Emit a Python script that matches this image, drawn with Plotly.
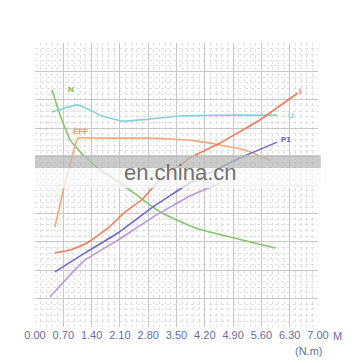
import plotly.graph_objects as go

# torque (N.m) and curve values in grid units (0-10)
n_x = [0.42, 0.62, 0.87, 1.19, 1.61, 2.10, 2.35, 3.09, 3.96, 4.82, 5.94]
n_y = [8.35, 7.46, 6.58, 6.06, 5.53, 5.07, 4.82, 4.05, 3.49, 3.17, 2.78]

u_x = [0.42, 0.74, 1.04, 1.36, 1.61, 2.15, 2.84, 3.59, 4.82, 5.99]
u_y = [7.57, 7.71, 7.82, 7.64, 7.46, 7.25, 7.32, 7.43, 7.46, 7.46]

eff_x = [0.49, 0.62, 0.74, 0.87, 0.96, 1.06, 1.61, 2.84, 3.83, 4.58, 5.19, 5.81]
eff_y = [3.52, 4.30, 5.07, 5.70, 6.23, 6.65, 6.65, 6.65, 6.58, 6.41, 6.23, 5.88]

i_x = [0.49, 0.87, 1.29, 1.81, 2.23, 2.65, 3.02, 3.83, 4.58, 5.56, 6.50]
i_y = [2.61, 2.71, 2.96, 3.49, 4.05, 4.49, 5.07, 5.95, 6.48, 7.29, 8.24]

p1_x = [0.49, 1.24, 2.05, 2.92, 3.83, 5.07, 5.99]
p1_y = [1.94, 2.61, 3.31, 4.23, 5.07, 5.95, 6.51]

p2_x = [0.37, 0.82, 1.24, 2.05, 2.92, 3.83, 4.58]
p2_y = [1.06, 1.76, 2.36, 3.06, 3.87, 4.61, 5.07]

tick_vals = [0, 0.7, 1.4, 2.1, 2.8, 3.5, 4.2, 4.9, 5.6, 6.3, 7.0]
tick_text = ["0.00", "0.70", "1.40", "2.10", "2.80", "3.50", "4.20", "4.90", "5.60", "6.30", "7.00"]

series = [
    ("N", n_x, n_y, "#86c46e"),
    ("U", u_x, u_y, "#86d2da"),
    ("EFF", eff_x, eff_y, "#f2a878"),
    ("I", i_x, i_y, "#f07c58"),
    ("P1", p1_x, p1_y, "#6a6ac8"),
    ("P2", p2_x, p2_y, "#b896dc"),
]

AXIS_FONT = "Liberation Sans"
AXIS_COL = "#6b6b9b"

fig = go.Figure()
for name, xs, ys, col in series:
    fig.add_trace(go.Scatter(x=xs, y=ys, mode="lines", name=name,
                             line=dict(color=col, width=1.6, shape="spline", smoothing=0.3)))

labels = [
    ("N", 0.9, 8.35, "#6fb85a"),
    ("U", 6.33, 7.46, "#86d2da"),
    ("EFF", 1.12, 6.9, "#f29a68"),
    ("I", 6.55, 8.3, "#e8704c"),
    ("P1", 6.2, 6.6, "#5a5ac0"),
]
for t, x, y, c in labels:
    fig.add_annotation(x=x, y=y, text="<b>" + t + "</b>", showarrow=False,
                       font=dict(size=8, color=c, family="Liberation Sans"))

# watermark band
fig.add_shape(type="rect", xref="paper", yref="paper", x0=0, x1=1.01,
              y0=(327 - 168) / 284, y1=(327 - 155) / 284,
              fillcolor="rgba(185,185,185,0.75)", line=dict(width=0), layer="above")
fig.add_shape(type="rect", xref="paper", yref="paper", x0=0, x1=1.01,
              y0=(327 - 188) / 284, y1=(327 - 168) / 284,
              fillcolor="rgba(250,250,250,0.75)", line=dict(width=0), layer="above")
fig.add_annotation(xref="paper", yref="paper", x=(180 - 35) / 283, y=(327 - 173) / 284,
                   yanchor="middle", text="en.china.cn", showarrow=False,
                   font=dict(size=22, color="#707070", family="Liberation Sans"))

# unit suffix after the last tick and the unit line below it
fig.add_annotation(xref="paper", yref="paper", x=(331 - 35) / 283, y=(327 - 336) / 284,
                   xanchor="left", yanchor="middle", text="M", showarrow=False,
                   font=dict(size=11, color=AXIS_COL, family=AXIS_FONT))
fig.add_annotation(xref="paper", yref="paper", x=(325 - 35) / 283, y=(327 - 351) / 284,
                   yanchor="middle", text="(N.m)", showarrow=False,
                   font=dict(size=11, color=AXIS_COL, family=AXIS_FONT))

fig.update_xaxes(range=[0, 7], tickvals=tick_vals, ticktext=tick_text, tickangle=0,
                 showgrid=True, gridcolor="#c8c8c8", gridwidth=1,
                 zeroline=False, showline=False, ticks="",
                 tickfont=dict(size=11, color=AXIS_COL, family=AXIS_FONT),
                 minor=dict(dtick=0.14, showgrid=True, gridcolor="#e0e0e0", griddash="dot", gridwidth=1))
fig.update_yaxes(range=[0, 10], dtick=1, showticklabels=False,
                 showgrid=True, gridcolor="#c8c8c8", gridwidth=1,
                 zeroline=False, showline=False, ticks="",
                 minor=dict(dtick=0.2, showgrid=True, gridcolor="#e0e0e0", griddash="dot", gridwidth=1))

fig.update_layout(width=360, height=360, showlegend=False,
                  margin=dict(l=35, r=42, t=43, b=33),
                  paper_bgcolor="white", plot_bgcolor="white")

fig.write_html("out.html")
